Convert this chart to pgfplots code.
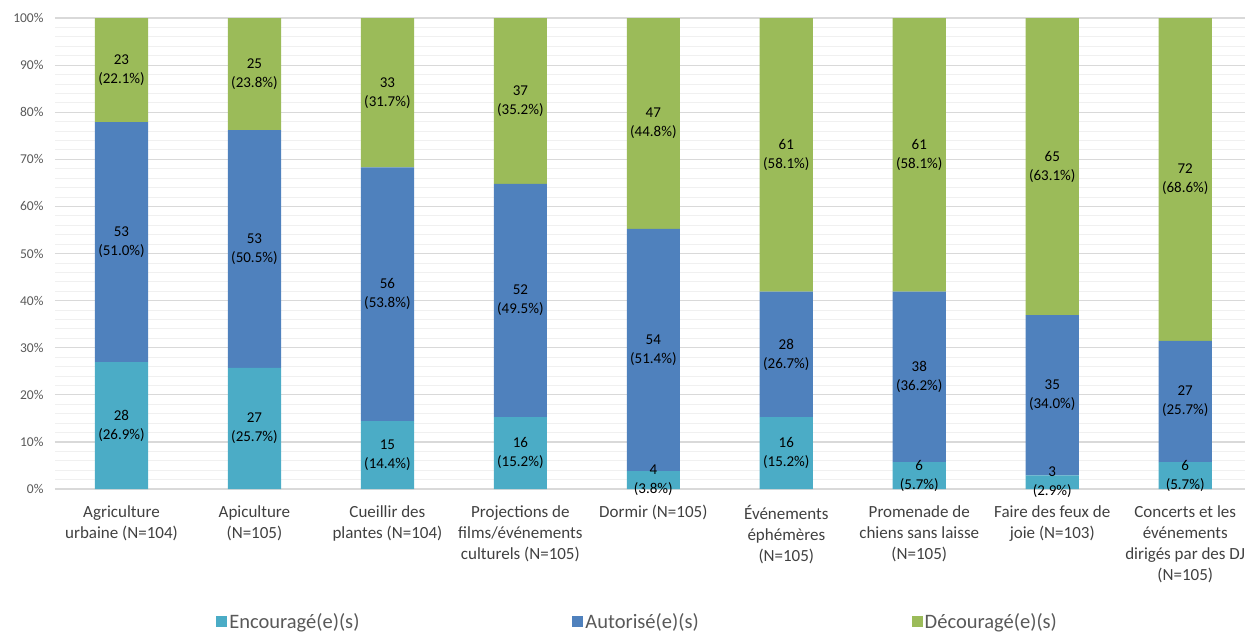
\documentclass[border=0pt]{standalone}
\usepackage{pgfplots}
\pgfplotsset{compat=1.18}
\usepackage{pgfplotstable}
\usepackage{fontspec}
\setmainfont{Carlito}
\definecolor{cEnc}{HTML}{4BACC6}
\definecolor{cAut}{HTML}{4F81BD}
\definecolor{cDec}{HTML}{9BBB59}
\definecolor{tickgray}{HTML}{595959}
\definecolor{labgray}{HTML}{404040}
\definecolor{gridmaj}{HTML}{D9D9D9}
\definecolor{gridmin}{HTML}{F0F0F0}

\pgfplotstableread{
x y n
0 26.923 28
1 25.714 27
2 14.423 15
3 15.238 16
4 3.810 4
5 15.238 16
6 5.714 6
7 2.913 3
8 5.714 6
}\encdata
\pgfplotstableread{
x y n
0 50.962 53
1 50.476 53
2 53.846 56
3 49.524 52
4 51.429 54
5 26.667 28
6 36.190 38
7 33.981 35
8 25.714 27
}\autdata
\pgfplotstableread{
x y n
0 22.114 23
1 23.809 25
2 31.730 33
3 35.237 37
4 44.760 47
5 58.094 61
6 58.094 61
7 63.105 65
8 68.570 72
}\decdata

\begin{document}
\begin{tikzpicture}[x=1pt,y=1pt]
\useasboundingbox (-55,-144) rectangle (1190,489);
\begin{axis}[
  at={(0,0)}, anchor=south west,
  scale only axis, width=1190pt, height=471pt,
  ybar stacked, bar width=0.4,
  xmin=-0.5, xmax=8.45, ymin=0, ymax=100,
  clip=false,
  xtick={0,...,8},
  xticklabels={{Agriculture\\urbaine (N=104)},{Apiculture\\(N=105)},{Cueillir des\\plantes (N=104)},{Projections de\\films/événements\\culturels (N=105)},{Dormir (N=105)},{Événements\\éphémères\\(N=105)},{Promenade de\\chiens sans laisse\\(N=105)},{Faire des feux de\\joie (N=103)},{Concerts et les\\événements\\dirigés par des DJ\\(N=105)}},
  xticklabel style={align=center, font=\fontsize{17}{21}\selectfont, text=labgray, anchor=north, yshift=-13pt},
  ytick={0,10,...,100},
  yticklabel={\pgfmathprintnumber{\tick}\%},
  /pgf/number format/assume math mode=true,
  yticklabel style={font=\fontsize{13.5}{15}\selectfont, text=tickgray, xshift=-8pt},
  minor y tick num=4,
  ymajorgrids, yminorgrids,
  major grid style={draw=gridmaj, line width=1.2pt},
  minor grid style={draw=gridmin, line width=0.8pt},
  axis line style={draw=none},
  tick style={draw=none},
  point meta=explicit symbolic,
  visualization depends on={\thisrow{y}\as\segh},
  nodes near coords={\pgfplotspointmeta\\(\pgfmathprintnumber[fixed,precision=1,fixed zerofill]{\segh}\%)},
  every node near coord/.append style={anchor=center, align=center, text=black,
     font=\fontsize{15}{19}\selectfont},
  legend columns=3,
  legend style={at={(0.4896,0)}, anchor=center, yshift=-133pt, draw=none,
     font=\fontsize{20.5}{24}\selectfont, text=tickgray,
     /tikz/every even column/.append style={column sep=211pt},
     /tikz/column 4/.append style={column sep=239pt}},
  legend image code/.code={\fill[#1] (0pt,-5pt) rectangle (11pt,6pt);},
]
\addplot[fill=cEnc, draw=none] table[x=x,y=y,meta=n] {\encdata};
\addplot[fill=cAut, draw=none] table[x=x,y=y,meta=n] {\autdata};
\addplot[fill=cDec, draw=none] table[x=x,y=y,meta=n] {\decdata};
\legend{Encouragé(e)(s),Autorisé(e)(s),Découragé(e)(s)}
\end{axis}
\end{tikzpicture}
\end{document}
